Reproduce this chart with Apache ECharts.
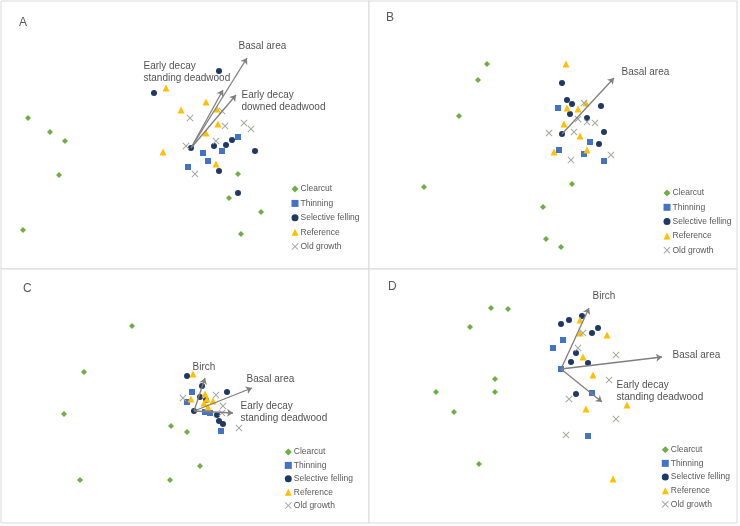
<!DOCTYPE html>
<html>
<head>
<meta charset="utf-8">
<script src="https://cdn.jsdelivr.net/npm/echarts@6/dist/echarts.min.js"></script>
<style>
  html, body { margin: 0; padding: 0; background: #fff; }
  #chart { width: 740px; height: 526px; }
</style>
</head>
<body>
<div id="chart"></div>
<script>
// NMDS scores, arrow origin = (0, 0) in every panel
const groupNames = ["Clearcut", "Thinning", "Selective felling", "Reference", "Old growth"];
const panelLetters = ["A", "B", "C", "D"];

const clearcutA = [[-1.63,0.30],[-1.41,0.16],[-1.26,0.07],[-1.32,-0.27],[-1.68,-0.82],[0.47,-0.26],[0.38,-0.50],[0.70,-0.64],[0.50,-0.86]];
const thinningA = [[0.47,0.11],[0.31,-0.03],[0.12,-0.05],[0.17,-0.13],[-0.03,-0.19]];
const selectiveA = [[0.28,0.77],[-0.37,0.55],[0,0],[0.23,0.02],[0.35,0.03],[0.41,0.08],[0.64,-0.03],[0.28,-0.23],[0.47,-0.45]];
const referenceA = [[-0.25,0.60],[0.15,0.46],[-0.10,0.38],[0.26,0.39],[0.27,0.24],[0.15,0.15],[-0.28,-0.04],[0.25,-0.16]];
const oldGrowthA = [[-0.01,0.30],[-0.05,0.02],[0.25,0.07],[0.34,0.22],[0.31,0.37],[0.53,0.25],[0.60,0.19],[0.04,-0.26]];
const vectorNamesA = ["Basal area", "Early decay\nstanding deadwood", "Early decay\ndowned deadwood"];
const vectorEndsA = [[0.56,0.90],[0.32,0.58],[0.45,0.53]];

const clearcutB = [[-0.75,0.70],[-0.84,0.54],[-1.03,0.18],[-1.38,-0.53],[0.10,-0.50],[-0.19,-0.73],[-0.16,-1.05],[-0.01,-1.13]];
const thinningB = [[-0.04,0.26],[-0.03,-0.16],[0.28,-0.08],[0.22,-0.20],[0.42,-0.27]];
const selectiveB = [[0,0.51],[0.05,0.34],[0.10,0.30],[0.08,0.20],[0.25,0.16],[0.39,0.28],[0.42,0.02],[0.37,-0.10],[0,0]];
const referenceB = [[0.04,0.70],[0.05,0.26],[0.16,0.25],[0.24,0.31],[0.02,0.10],[0.18,-0.02],[0.25,-0.16],[-0.08,-0.18]];
const oldGrowthB = [[0.22,0.31],[0.16,0.15],[0.25,0.12],[0.33,0.11],[-0.13,0.01],[0.12,0.02],[0.49,-0.21],[0.09,-0.26]];
const vectorNamesB = ["Basal area"];
const vectorEndsB = [[0.52,0.56]];

const clearcutC = [[-0.62,0.85],[-1.10,0.39],[-1.30,-0.03],[-0.23,-0.15],[-0.07,-0.21],[0.06,-0.55],[-1.14,-0.69],[-0.24,-0.69]];
const thinningC = [[-0.02,0.19],[-0.07,0.09],[0.11,-0.01],[0.16,-0.02],[0.27,-0.20]];
const selectiveC = [[-0.07,0.35],[0.08,0.25],[0.06,0.14],[0.12,0.11],[0.33,0.19],[0,0],[0.23,-0.04],[0.25,-0.10],[0.29,-0.13]];
const referenceC = [[-0.01,0.37],[-0.03,0.12],[0.11,0.17],[0.13,0.12],[0.19,0.10],[0.10,0.08],[0.14,0.04]];
const oldGrowthC = [[-0.11,0.13],[0.22,0.16],[0.29,0.05],[0.28,-0.02],[0.45,-0.17]];
const vectorNamesC = ["Birch", "Basal area", "Early decay\nstanding deadwood"];
const vectorEndsC = [[0.11,0.33],[0.58,0.23],[0.39,-0.02]];

const clearcutD = [[-0.70,0.61],[-0.53,0.60],[-0.91,0.42],[-0.66,-0.10],[-1.25,-0.23],[-0.66,-0.23],[-1.07,-0.43],[-0.82,-0.95]];
const thinningD = [[0.02,0.29],[-0.08,0.21],[0,0],[0.31,-0.24],[0.27,-0.67]];
const selectiveD = [[0,0.45],[0.08,0.49],[0.21,0.53],[0.31,0.36],[0.37,0.41],[0.15,0.16],[0.10,0.07],[0.27,0.06],[0.15,-0.25]];
const referenceD = [[0.19,0.49],[0.19,0.36],[0.46,0.34],[0.22,0.12],[0.32,-0.06],[0.25,-0.40],[0.66,-0.36],[0.52,-1.10]];
const oldGrowthD = [[0.22,0.36],[0.17,0.21],[0.55,0.14],[0.48,-0.11],[0.08,-0.30],[0.55,-0.50],[0.05,-0.66]];
const vectorNamesD = ["Birch", "Basal area", "Early decay\nstanding deadwood"];
const vectorEndsD = [[0.28,0.61],[1.01,0.12],[0.41,-0.33]];

const panelGroups = [
  [clearcutA, thinningA, selectiveA, referenceA, oldGrowthA],
  [clearcutB, thinningB, selectiveB, referenceB, oldGrowthB],
  [clearcutC, thinningC, selectiveC, referenceC, oldGrowthC],
  [clearcutD, thinningD, selectiveD, referenceD, oldGrowthD]
];
const panelVectorNames = [vectorNamesA, vectorNamesB, vectorNamesC, vectorNamesD];
const panelVectorEnds = [vectorEndsA, vectorEndsB, vectorEndsC, vectorEndsD];

// layout: panel boxes (px), arrow origin (px), 100 px per score unit
const boxes = [
  { left: 1, top: 1, width: 368, height: 268 },
  { left: 369, top: 1, width: 368, height: 268 },
  { left: 1, top: 269, width: 368, height: 254 },
  { left: 369, top: 269, width: 368, height: 254 }
];
const origins = [[191, 148], [562, 134], [194, 411], [561, 369]];
const pxPerUnit = 100;
// where each vector label sits relative to its arrow tip (px)
const labelOffsets = [
  [[-8, -11], [-79, -17], [6, 7]],
  [[8, -5]],
  [[-12, -10], [-5, -8], [8, 0]],
  [[4, -11], [11, -1], [15, -10]]
];
const legendPos = [
  { left: 291.5, top: 184, gap: 4.4 },
  { left: 663.5, top: 188, gap: 4.3 },
  { left: 284.8, top: 447, gap: 3.4 },
  { left: 661.8, top: 444.7, gap: 3.65 }
];
const letterPos = [[19, 17], [386, 12], [23, 283], [388, 281]];

const crossPath = "path://M1,0 L5,4 L9,0 L10,1 L6,5 L10,9 L9,10 L5,6 L1,10 L0,9 L4,5 L0,1 Z";
const groupStyle = [
  { symbol: "diamond", size: 6, color: "#70AD47" },
  { symbol: "rect", size: 6, color: "#4472C4" },
  { symbol: "circle", size: 6, color: "#203864" },
  { symbol: "triangle", size: 7, color: "#FFC000" },
  { symbol: crossPath, size: 7, color: "#A3A9A0" }
];
const font = "'Liberation Sans', Arial, sans-serif";

let grid = [], xAxis = [], yAxis = [], series = [], legend = [], title = [];

boxes.forEach(function (b, i) {
  let ox = origins[i][0], oy = origins[i][1];
  grid.push({
    left: b.left, top: b.top, width: b.width, height: b.height,
    show: true, borderColor: "#D9D9D9", borderWidth: 1, backgroundColor: "#fff"
  });
  xAxis.push({
    type: "value", gridIndex: i, show: false,
    min: (b.left - ox) / pxPerUnit, max: (b.left + b.width - ox) / pxPerUnit
  });
  yAxis.push({
    type: "value", gridIndex: i, show: false,
    min: (oy - b.top - b.height) / pxPerUnit, max: (oy - b.top) / pxPerUnit
  });

  panelGroups[i].forEach(function (pts, g) {
    series.push({
      name: groupNames[g],
      type: "scatter",
      xAxisIndex: i, yAxisIndex: i,
      symbol: groupStyle[g].symbol,
      symbolSize: groupStyle[g].size,
      itemStyle: { color: groupStyle[g].color, opacity: 1 },
      emphasis: { disabled: true },
      data: pts,
      z: 2
    });
  });

  // environmental vectors
  series.push({
    type: "lines",
    coordinateSystem: "cartesian2d",
    xAxisIndex: i, yAxisIndex: i,
    symbol: ["none", "arrow"],
    symbolSize: 6,
    lineStyle: { color: "#7F7F7F", width: 1.3, opacity: 1, curveness: 0 },
    data: panelVectorEnds[i].map(function (e) { return { coords: [[0, 0], e] }; }),
    z: 3
  });
  series.push({
    type: "scatter",
    xAxisIndex: i, yAxisIndex: i,
    symbolSize: 1,
    itemStyle: { color: "rgba(0,0,0,0)" },
    emphasis: { disabled: true },
    silent: true,
    data: panelVectorEnds[i].map(function (e, k) {
      return {
        value: e,
        name: panelVectorNames[i][k],
        label: { position: labelOffsets[i][k] }
      };
    }),
    label: {
      show: true,
      formatter: "{b}",
      align: "left",
      verticalAlign: "middle",
      fontFamily: font,
      fontSize: 10,
      lineHeight: 12,
      color: "#262626"
    },
    z: 4
  });

  legend.push({
    orient: "vertical",
    left: legendPos[i].left,
    top: legendPos[i].top,
    padding: 0,
    itemWidth: 7,
    itemHeight: 7,
    itemGap: legendPos[i].gap,
    selectedMode: false,
    data: groupNames.map(function (n, g) {
      return { name: n, icon: groupStyle[g].symbol };
    }),
    textStyle: { fontFamily: font, fontSize: 8.5, lineHeight: 10, color: "#595959", padding: [0, 0, 0, -3] }
  });

  title.push({
    text: panelLetters[i],
    left: letterPos[i][0],
    top: letterPos[i][1],
    padding: 0,
    textStyle: { fontFamily: font, fontSize: 12, fontWeight: "normal", color: "#595959" }
  });
});

let option = {
  backgroundColor: "#fff",
  animation: false,
  title: title,
  grid: grid,
  xAxis: xAxis,
  yAxis: yAxis,
  legend: legend,
  series: series
};

let myChart = echarts.init(document.getElementById("chart"));
myChart.setOption(option);
</script>
</body>
</html>
